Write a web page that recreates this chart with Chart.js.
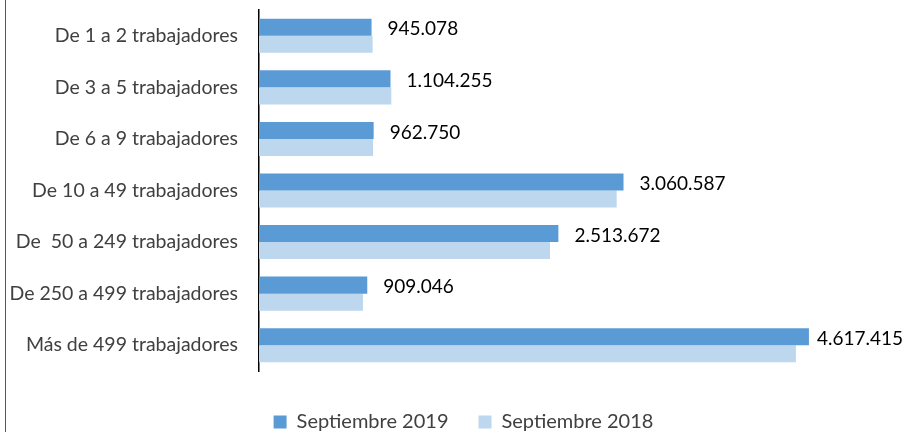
<!DOCTYPE html>
<html>
<head>
<meta charset="utf-8">
<script src="https://cdn.jsdelivr.net/npm/chart.js@4.4.0/dist/chart.umd.min.js"></script>
<style>
    html, body { margin: 0; padding: 0; background: #fff; overflow: hidden; }
    #wrap { width: 906px; height: 432px; position: relative; overflow: hidden; }
</style>
</head>
<body>
<div id="wrap"><canvas id="barras-chart" width="906" height="442"></canvas></div>
<script>
// Trabajadores por tamaño de empresa (Septiembre 2019 vs Septiembre 2018)
const categorias = [
    'De 1 a 2 trabajadores',
    'De 3 a 5 trabajadores',
    'De 6 a 9 trabajadores',
    'De 10 a 49 trabajadores',
    'De  50 a 249 trabajadores',
    'De 250 a 499 trabajadores',
    'Más de 499 trabajadores',
];
const sep2019 = [945078, 1104255, 962750, 3060587, 2513672, 909046, 4617415];
const sep2018 = [954000, 1111000, 957000, 3003000, 2443000, 873000, 4508000];
const serieNombres = ['Septiembre 2019', 'Septiembre 2018'];

const FONT = "Lato, 'Open Sans', sans-serif";

function fmtMiles(v) {
    return String(v).replace(/\B(?=(\d{3})+(?!\d))/g, '.');
}

// Marco izquierdo + etiquetas de valor (solo serie 2019)
const etiquetasPlugin = {
    id: 'etiquetas',
    afterLayout: (chart) => {
        // leyenda algo desplazada a la derecha, como en el original
        chart.legend.left += 32;
    },
    beforeDraw: (chart) => {
        const c = chart.ctx;
        c.save();
        c.strokeStyle = '#595959';
        c.lineWidth = 1;
        c.beginPath();
        c.moveTo(5.5, 0);
        c.lineTo(5.5, chart.height);
        c.stroke();
        c.restore();
    },
    afterDatasetsDraw: (chart) => {
        const c = chart.ctx;
        const meta = chart.getDatasetMeta(0);
        c.save();
        c.fillStyle = '#000';
        c.font = `19px ${FONT}`;
        c.textAlign = 'left';
        c.textBaseline = 'middle';
        meta.data.forEach((bar, i) => {
            const txt = fmtMiles(sep2019[i]);
            const w = c.measureText(txt).width;
            const x = Math.min(bar.x + 16, chart.width - 3 - w);
            c.fillText(txt, x, bar.y + 2);
        });
        c.restore();
    },
};

const ctx = document.getElementById('barras-chart').getContext('2d');
new Chart(ctx, {
    type: 'bar',
    data: {
        labels: categorias,
        datasets: [
            {
                label: serieNombres[0],
                data: sep2019,
                backgroundColor: '#5B9BD5',
                borderWidth: 0,
                categoryPercentage: 0.66,
                barPercentage: 1.0,
            },
            {
                label: serieNombres[1],
                data: sep2018,
                backgroundColor: '#BDD7EE',
                borderWidth: 0,
                categoryPercentage: 0.66,
                barPercentage: 1.0,
            },
        ],
    },
    options: {
        indexAxis: 'y',
        responsive: false,
        animation: false,
        layout: { padding: { top: 10, right: 11, left: 0, bottom: 0 } },
        plugins: {
            legend: {
                position: 'bottom',
                labels: {
                    boxWidth: 13,
                    boxHeight: 13,
                    padding: 30,
                    color: '#404040',
                    font: { family: FONT, size: 20 },
                },
            },
            tooltip: { enabled: false },
        },
        scales: {
            x: {
                min: 0,
                max: 5340000,
                grid: { display: false },
                border: { display: false },
                ticks: { display: false },
                afterFit: (scale) => { scale.height = 11; },
            },
            y: {
                grid: { display: false, drawTicks: false },
                border: { display: true, color: '#000', width: 1.5 },
                ticks: {
                    color: '#404040',
                    padding: 21,
                    font: { family: FONT, size: 19.5 },
                },
                afterFit: (scale) => {
                    scale.width = 259;
                    scale.paddingTop = 0;
                    scale.paddingBottom = 0;
                },
            },
        },
    },
    plugins: [etiquetasPlugin],
});
</script>
</body>
</html>
